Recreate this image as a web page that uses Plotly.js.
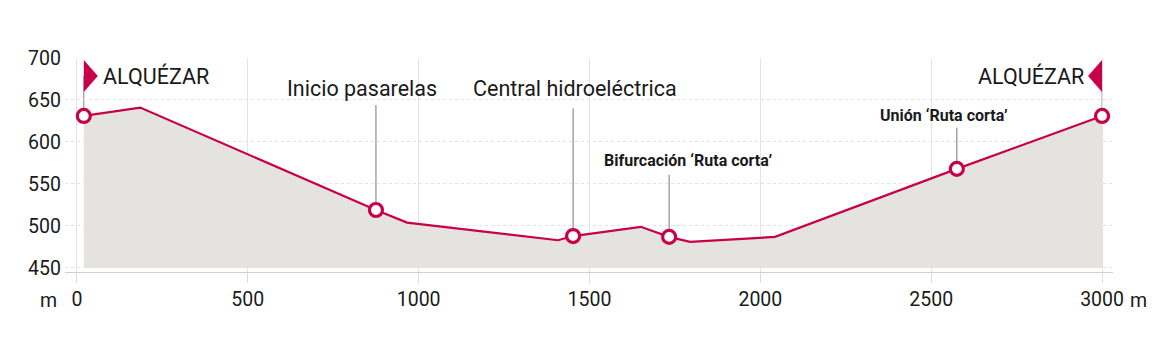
<!DOCTYPE html>
<html><head><meta charset="utf-8">
<script src="https://cdn.plot.ly/plotly-3.0.1.min.js"></script>
<style>html,body{margin:0;padding:0;background:#fff}#chart{width:1163px;height:351px}</style>
</head><body><div id="chart"></div>
<script>
// Profile data (distance in m, elevation in m)
const distance  = [20, 185, 875, 966, 1408, 1452, 1650, 1733, 1794, 2043, 2575, 3000];
const elevation = [631, 641, 519, 504, 483, 488, 499, 487, 481, 487, 568, 631];
// Waypoints (index into profile)
const waypointIdx   = [0, 2, 5, 7, 10, 11];
const waypointNames = ['ALQUÉZAR', 'Inicio pasarelas', 'Central hidroeléctrica', 'Bifurcación ‘Ruta corta’', 'Unión ‘Ruta corta’', 'ALQUÉZAR'];
const xTicks = [0, 500, 1000, 1500, 2000, 2500, 3000];
const yTicks = [450, 500, 550, 600, 650, 700];
const floorElev = 450;

const RED = '#c8004b';
const TXT = '#1a1a1a';
const FONT = 'Roboto, sans-serif';

const wx = waypointIdx.map(i => distance[i]);
const wy = waypointIdx.map(i => elevation[i]);

const traces = [
  { x: [...distance, distance[distance.length-1], distance[0]],
    y: [...elevation, floorElev, floorElev],
    mode: 'none', fill: 'toself', fillcolor: '#e4e3e0', hoverinfo: 'skip' },
  { x: distance, y: elevation, mode: 'lines', line: { color: RED, width: 2.2 }, hoverinfo: 'skip' },
  { x: wx, y: wy, mode: 'markers', marker: { symbol: 'circle', size: 13, color: '#fff', line: { color: RED, width: 3.2 } }, hoverinfo: 'skip' }
];

const labelCfg = [
  { k: 1, lx: 834,  ly: 664, top: 644, size: 21.5, bold: false },
  { k: 2, lx: 1457, ly: 664, top: 640, size: 21.5, bold: false },
  { k: 3, lx: 1788, ly: 578, top: 561, size: 16, bold: true },
  { k: 4, lx: 2537, ly: 631, top: 617, size: 16, bold: true }
];

const shapes = [];
const annotations = [];
labelCfg.forEach(c => {
  shapes.push({ type: 'line', xref: 'x', yref: 'y', x0: wx[c.k], x1: wx[c.k], y0: c.top, y1: wy[c.k],
    line: { color: '#777', width: 1 }, layer: 'below' });
  annotations.push({ x: c.lx, y: c.ly, xref: 'x', yref: 'y', showarrow: false,
    text: c.bold ? '<b>' + waypointNames[c.k] + '</b>' : waypointNames[c.k],
    font: { family: FONT, size: c.size, color: TXT }, xanchor: 'center', yanchor: 'middle' });
});

// flags at start and end
const first = 0, last = waypointIdx.length - 1;
shapes.push({ type: 'path', xsizemode: 'pixel', ysizemode: 'pixel', xanchor: wx[first], yanchor: wy[first],
  path: 'M0,0 L0,40', line: { color: '#888', width: 1 }, layer: 'below' });
shapes.push({ type: 'path', xsizemode: 'pixel', ysizemode: 'pixel', xanchor: wx[first], yanchor: wy[first],
  path: 'M0,56 L0,24 L14,40 Z', fillcolor: RED, line: { width: 0 } });
shapes.push({ type: 'path', xsizemode: 'pixel', ysizemode: 'pixel', xanchor: wx[last], yanchor: wy[last],
  path: 'M0,0 L0,40', line: { color: '#888', width: 1 }, layer: 'below' });
shapes.push({ type: 'path', xsizemode: 'pixel', ysizemode: 'pixel', xanchor: wx[last], yanchor: wy[last],
  path: 'M0,56 L0,24 L-14,40 Z', fillcolor: RED, line: { width: 0 } });
annotations.push({ x: wx[first], y: 679, xref: 'x', yref: 'y', xshift: 17, showarrow: false, text: waypointNames[first],
  font: { family: FONT, size: 21.5, color: TXT }, xanchor: 'left', yanchor: 'middle' });
annotations.push({ x: wx[last], y: 679, xref: 'x', yref: 'y', xshift: -16, showarrow: false, text: waypointNames[last],
  font: { family: FONT, size: 21.5, color: TXT }, xanchor: 'right', yanchor: 'middle' });

// unit labels
annotations.push({ x: 0, y: 0, xref: 'paper', yref: 'paper', xshift: -6, yshift: -28, showarrow: false, text: 'm',
  font: { family: FONT, size: 19.5, color: TXT }, xanchor: 'right', yanchor: 'middle' });
annotations.push({ x: 3000, y: 0, xref: 'x', yref: 'paper', xshift: 26, yshift: -28, showarrow: false, text: 'm',
  font: { family: FONT, size: 19.5, color: TXT }, xanchor: 'left', yanchor: 'middle' });

const layout = {
  width: 1163, height: 351,
  margin: { l: 65, r: 50, t: 58, b: 79 },
  paper_bgcolor: '#fff', plot_bgcolor: '#fff',
  showlegend: false,
  font: { family: FONT, color: TXT },
  xaxis: { range: [-35, 3032], tickvals: xTicks, ticktext: xTicks.map(String), showgrid: true, gridcolor: '#e3e3e3', gridwidth: 1,
    zeroline: false, showline: true, linecolor: '#cfcfcf', linewidth: 1, ticks: 'outside', ticklen: 10, tickcolor: '#dcdcdc',
    tickfont: { family: FONT, size: 19.5, color: TXT }, fixedrange: true },
  yaxis: { range: [445.2, 700], tickvals: yTicks, showgrid: true, gridcolor: '#e3e3e3', griddash: 'dot', gridwidth: 1,
    zeroline: false, showline: false, ticks: '', ticklabelstandoff: 3,
    tickfont: { family: FONT, size: 19.5, color: TXT }, fixedrange: true },
  shapes, annotations
};
Plotly.newPlot('chart', traces, layout, { displayModeBar: false, staticPlot: true });
</script></body></html>
